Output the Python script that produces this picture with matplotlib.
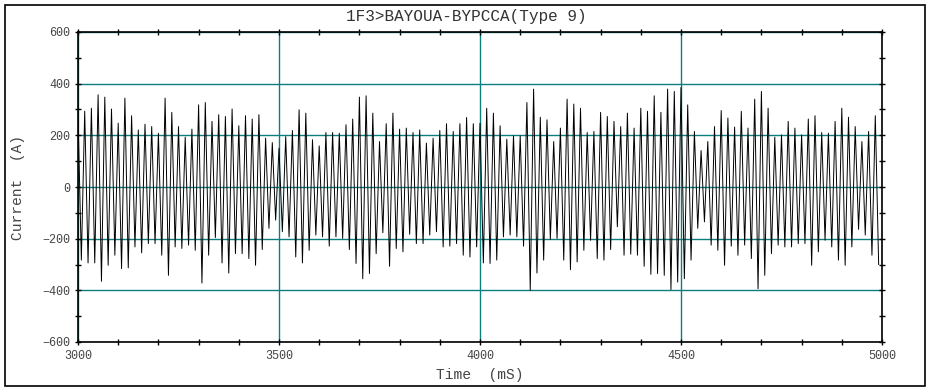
import numpy as np
import matplotlib
matplotlib.use("Agg")
import matplotlib.pyplot as plt
from matplotlib.patches import Rectangle
from matplotlib.ticker import MultipleLocator

# peak / trough current (A) of each 60 Hz cycle
peaks = [286, 293, 305, 357, 348, 302, 247, 344, 276, 221,
         243, 234, 208, 344, 289, 234, 193, 224, 318, 327,
         254, 280, 273, 302, 237, 276, 263, 280, 189, 172,
         150, 195, 219, 299, 286, 183, 159, 211, 211, 208,
         241, 263, 348, 353, 286, 176, 245, 286, 224, 228,
         211, 221, 170, 189, 219, 245, 215, 245, 269, 245,
         247, 305, 286, 237, 185, 198, 198, 327, 379, 270,
         260, 176, 228, 340, 321, 305, 211, 215, 289, 273,
         254, 234, 286, 228, 305, 293, 353, 289, 379, 370,
         385, 318, 215, 141, 176, 234, 296, 267, 232, 293,
         228, 340, 370, 305, 193, 202, 254, 228, 202, 263,
         276, 211, 208, 254, 305, 270, 234, 176, 215, 276]
troughs = [-283, -294, -294, -365, -303, -264, -316, -313, -232, -255,
           -219, -219, -264, -342, -232, -238, -225, -245, -372, -264,
           -196, -294, -333, -258, -258, -277, -303, -242, -160, -128,
           -173, -193, -271, -294, -245, -186, -193, -229, -193, -199,
           -242, -296, -355, -335, -258, -177, -307, -238, -251, -183,
           -219, -219, -186, -173, -232, -229, -219, -264, -271, -232,
           -294, -296, -283, -193, -186, -193, -229, -400, -333, -283,
           -203, -199, -283, -320, -290, -245, -206, -277, -283, -242,
           -154, -264, -260, -264, -307, -338, -335, -342, -397, -368,
           -355, -283, -160, -135, -225, -245, -303, -229, -264, -225,
           -277, -394, -342, -258, -225, -232, -232, -219, -219, -303,
           -251, -206, -232, -283, -303, -232, -164, -186, -264, -300]

t_start = 3000.0
period = 1000.0 / 60.0

n = len(peaks)
t_pk = t_start + period * np.arange(n)
t_tr = t_pk + period / 2
t = np.empty(2 * n)
y = np.empty(2 * n)
t[0::2] = t_pk
t[1::2] = t_tr
y[0::2] = peaks
y[1::2] = troughs

mono = "Liberation Mono"
teal = "#0b7f80"

fig = plt.figure(figsize=(9.33, 3.92), dpi=100)
ax = fig.add_axes([78 / 933, 50 / 392, 804 / 933, 310 / 392])

ax.plot(t, y, color="black", lw=0.7)

ax.set_xlim(3000, 5000)
ax.set_ylim(-600, 600)
ax.xaxis.set_major_locator(MultipleLocator(500))
ax.xaxis.set_minor_locator(MultipleLocator(100))
ax.yaxis.set_major_locator(MultipleLocator(200))
ax.yaxis.set_minor_locator(MultipleLocator(100))
ax.grid(True, which="major", color=teal, lw=1.0)
ax.tick_params(which="both", direction="inout", top=True, right=True,
               labelsize=8.5, labelcolor="#444444", width=1.0, length=4.5)
for lab in ax.get_xticklabels() + ax.get_yticklabels():
    lab.set_fontfamily(mono)
for s in ax.spines.values():
    s.set_linewidth(1.2)

ax.set_xlabel("Time  (mS)", family=mono, fontsize=10.5, color="#444444", labelpad=4)
ax.set_ylabel("Current  (A)", family=mono, fontsize=10.5, color="#444444", labelpad=12)
fig.text(0.5, 376 / 392, "1F3>BAYOUA-BYPCCA(Type 9)", family=mono, fontsize=11.5,
         color="#333333", ha="center", va="center")

fig.patches.append(Rectangle((5 / 933, 6 / 392), 920 / 933, 381 / 392,
                             transform=fig.transFigure, fill=False,
                             edgecolor="black", lw=1.2))

fig.savefig("out.png", dpi=100)
